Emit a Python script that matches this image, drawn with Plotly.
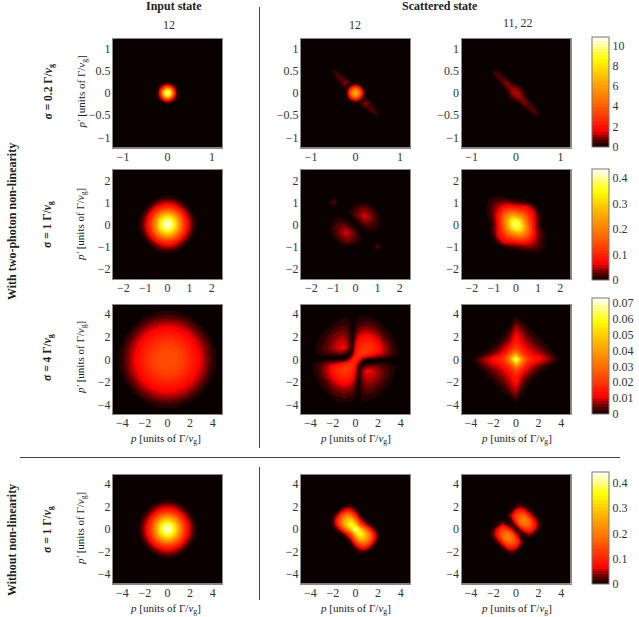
import numpy as np
import plotly.graph_objects as go

W, H = 639, 617
FONT = "Liberation Serif"

# values. rows go top -> centre, the lower half of the
# scattered panels is the same table turned by 180 degrees
# input state: one quadrant, rows and columns start at p = p' = 0
input_02_step = 0.05
input_02 = [
    [10.5, 9.2, 6, 2.8, 0.8, 0.12, 0],
    [9.2, 8.2, 5, 2.4, 0.65, 0.08, 0],
    [6, 5, 3.2, 1.5, 0.4, 0, 0],
    [2.8, 2.4, 1.5, 0.7, 0.12, 0, 0],
    [0.8, 0.65, 0.4, 0.12, 0, 0, 0],
    [0.12, 0.08, 0, 0, 0, 0, 0],
    [0, 0, 0, 0, 0, 0, 0],
]
input_1_step = 0.15
input_1 = [
    [.43, .41, .35, .27, .19, .12, .073, .04, .014, 0],
    [.41, .39, .33, .26, .18, .115, .07, .038, .013, 0],
    [.35, .33, .29, .22, .16, .10, .06, .032, .009, 0],
    [.27, .26, .22, .18, .125, .08, .045, .022, .004, 0],
    [.19, .18, .16, .125, .09, .055, .03, .01, 0, 0],
    [.12, .115, .10, .08, .055, .033, .014, .002, 0, 0],
    [.073, .07, .06, .045, .03, .014, .004, 0, 0, 0],
    [.04, .038, .032, .022, .01, .002, 0, 0, 0, 0],
    [.014, .013, .009, .004, 0, 0, 0, 0, 0, 0],
    [0, 0, 0, 0, 0, 0, 0, 0, 0, 0],
]
input_4_step = 0.5
input_4 = [  # 1e-3
    [25, 24, 22.5, 20, 16.5, 13, 9.8, 5.6, 2.3, 0],
    [24, 23.5, 22, 19.5, 16, 12.5, 9.5, 5.3, 2.2, 0],
    [22.5, 22, 20.5, 18, 15, 11.5, 8.5, 4.8, 1.5, 0],
    [20, 19.5, 18, 15.5, 13, 10.3, 7, 3.6, 0.3, 0],
    [16.5, 16, 15, 13, 11, 8.2, 4.8, 2.2, 0, 0],
    [13, 12.5, 11.5, 10.3, 8.2, 5.3, 3, 0, 0, 0],
    [9.8, 9.5, 8.5, 7, 4.8, 3, 0.5, 0, 0, 0],
    [5.6, 5.3, 4.8, 3.6, 2.2, 0, 0, 0, 0, 0],
    [2.3, 2.2, 1.5, 0.3, 0, 0, 0, 0, 0, 0],
    [0, 0, 0, 0, 0, 0, 0, 0, 0, 0],
]

# sigma = 0.2, scattered, grid step 0.06
grid_02 = [-.6, -.54, -.48, -.42, -.36, -.3, -.24, -.18, -.12, -.06, 0,
           .06, .12, .18, .24, .3, .36, .42, .48, .54, .6]
sc12_02 = [
    [0, 0, 0, 0, 0, 0, 0, 0, 0, 0, 0, 0, 0, 0, 0, 0, 0, 0, 0, 0, 0],
    [0, 0, 0, 0, 0, 0, 0, 0, 0, 0, 0, 0, 0, 0, 0, 0, 0, 0, 0, 0, 0],
    [0, 0, .5, .25, 0, 0, 0, 0, 0, 0, 0, 0, 0, 0, 0, 0, 0, 0, 0, 0, 0],
    [0, 0, .3, .55, .45, .05, 0, 0, 0, 0, 0, 0, 0, 0, 0, 0, 0, 0, 0, 0, 0],
    [0, 0, 0, .4, .55, .5, .2, 0, 0, 0, 0, 0, 0, 0, 0, 0, 0, 0, 0, 0, 0],
    [0, 0, 0, .2, .45, .65, .6, .4, .05, 0, 0, 0, 0, 0, 0, 0, 0, 0, 0, 0, 0],
    [0, 0, 0, 0, .3, .55, .95, .75, .45, 0, 0, 0, 0, 0, 0, 0, 0, 0, 0, 0, 0],
    [0, 0, 0, 0, .05, .35, .7, .1, .15, .55, .9, .55, .15, 0, 0, 0, 0, 0, 0, 0, 0],
    [0, 0, 0, 0, 0, .05, .4, .15, 1.3, 2.6, 3.2, 2.6, 1.3, .15, 0, 0, 0, 0, 0, 0, 0],
    [0, 0, 0, 0, 0, 0, 0, .55, 2.6, 4.8, 5.8, 4.8, 2.6, .55, 0, 0, 0, 0, 0, 0, 0],
    [0, 0, 0, 0, 0, 0, 0, .9, 3.2, 5.8, 6.8, 5.8, 3.2, .9, 0, 0, 0, 0, 0, 0, 0],
]
sc11_02 = [
    [0, 0, 0, 0, 0, 0, 0, 0, 0, 0, 0, 0, 0, 0, 0, 0, 0, 0, 0, 0, 0],
    [0, 0, 0, 0, 0, 0, 0, 0, 0, 0, 0, 0, 0, 0, 0, 0, 0, 0, 0, 0, 0],
    [0, 0, .45, .35, 0, 0, 0, 0, 0, 0, 0, 0, 0, 0, 0, 0, 0, 0, 0, 0, 0],
    [0, 0, .35, .55, .5, .1, 0, 0, 0, 0, 0, 0, 0, 0, 0, 0, 0, 0, 0, 0, 0],
    [0, 0, .1, .45, .6, .55, .25, 0, 0, 0, 0, 0, 0, 0, 0, 0, 0, 0, 0, 0, 0],
    [0, 0, 0, .2, .5, .65, .6, .35, 0, 0, 0, 0, 0, 0, 0, 0, 0, 0, 0, 0, 0],
    [0, 0, 0, 0, .3, .55, .8, .7, .4, 0, 0, 0, 0, 0, 0, 0, 0, 0, 0, 0, 0],
    [0, 0, 0, 0, 0, .35, .6, .85, .75, .55, .35, 0, 0, 0, 0, 0, 0, 0, 0, 0, 0],
    [0, 0, 0, 0, 0, 0, .45, .7, 1, .95, .8, .5, .4, 0, 0, 0, 0, 0, 0, 0, 0],
    [0, 0, 0, 0, 0, 0, 0, .5, .9, 1.2, 1.15, .85, .45, .1, 0, 0, 0, 0, 0, 0, 0],
    [0, 0, 0, 0, 0, 0, 0, .45, .85, 1.15, 1.3, 1.15, .85, .45, 0, 0, 0, 0, 0, 0, 0],
]

# sigma = 1, scattered, grid step 0.2
grid_1 = [-1.4, -1.2, -1, -.8, -.6, -.4, -.2, 0, .2, .4, .6, .8, 1, 1.2, 1.4]
sc12_1 = [
    [0, 0, 0, 0, 0, 0, 0, 0, 0, 0, 0, 0, 0, 0, 0],
    [0, 0, .006, 0, 0, 0, 0, 0, 0, 0, 0, 0, 0, 0, 0],
    [0, .006, .024, .006, 0, 0, 0, 0, 0, 0, 0, 0, 0, 0, 0],
    [0, 0, .006, 0, 0, 0, 0, .012, .022, .025, .016, .003, 0, 0, 0],
    [0, 0, 0, 0, 0, 0, .012, .022, .032, .04, .03, .02, .004, 0, 0],
    [0, 0, 0, 0, 0, 0, .004, .024, .04, .06, .045, .026, .012, 0, 0],
    [0, 0, .004, .012, .012, .004, 0, .008, .026, .042, .038, .026, .014, 0, 0],
    [0, 0, .01, .02, .026, .022, .006, .001, .006, .022, .026, .02, .01, 0, 0],
]
sc11_1 = [
    [0, 0, 0, 0, 0, 0, 0, 0, 0, 0, 0, 0, 0, 0, 0],
    [0, .004, .008, .009, .009, .006, .002, 0, 0, 0, 0, 0, 0, 0, 0],
    [0, .012, .022, .03, .035, .035, .03, .022, .02, .012, .003, 0, 0, 0, 0],
    [0, .014, .03, .05, .065, .08, .08, .075, .07, .07, .055, .02, .003, 0, 0],
    [0, .015, .035, .065, .11, .15, .16, .15, .13, .11, .08, .055, .012, 0, 0],
    [0, .012, .035, .08, .15, .2, .25, .24, .21, .17, .11, .07, .02, .002, 0],
    [0, .006, .03, .08, .16, .25, .33, .35, .3, .21, .13, .07, .025, .004, 0],
    [0, .002, .022, .075, .15, .24, .35, .42, .35, .24, .15, .075, .022, .002, 0],
]

# sigma = 4, scattered, tighter grid round the dark cross, values in 1e-3
grid_4 = [-4.5, -4, -3.5, -3, -2.5, -2, -1.5, -1, -.6, -.3, 0,
          .3, .6, 1, 1.5, 2, 2.5, 3, 3.5, 4, 4.5]
sc12_4 = [
    [0, 0, 0, 0, 0, 0, 0, 0, 0, 0, 0, 0, 0, 0, 0, 0, 0, 0, 0, 0, 0],
    [0, 0, 0, 0, 0, 0, 0, 0, 0, 0, 0, 0, 0, 0, 0, 0, 0, 0, 0, 0, 0],
    [0, 0, 0, 0, 0, 0, .5, 1.5, 1.2, 0, .5, 1.5, 1.8, 2.2, 1.5, .3, 0, 0, 0, 0, 0],
    [0, 0, 0, 0, 0, 1.5, 2.5, 3, 2, 0, 1.5, 3.5, 4, 4.5, 4, 2.8, .8, 0, 0, 0, 0],
    [0, 0, 0, .2, 1.5, 3, 4.5, 5, 3.5, 0, 3, 6, 7.5, 8, 7, 5, 2.5, .8, 0, 0, 0],
    [0, 0, 0, 1.2, 3, 5, 6.5, 7, 4.5, .2, 5, 10, 12, 13, 11, 8, 4.5, 2, .3, 0, 0],
    [0, 0, .3, 2, 4, 6.5, 9, 9.5, 6, .3, 8, 13.5, 15.5, 16.5, 15.5, 11, 7, 3.5, 1, 0, 0],
    [0, 0, .8, 2.5, 4.5, 7, 10, 11, 6, .3, 11, 16.5, 19, 20, 18, 13.5, 8.5, 4.5, 1.5, .2, 0],
    [0, 0, .8, 2.2, 3.5, 5, 6, 5, 2, 1, 13, 18, 19.5, 19, 15.5, 12, 8, 4.5, 1.8, .3, 0],
    [0, 0, .5, .8, 1, 1, 1, .5, .5, 7, 15.5, 18, 15.5, 12, 9, 7, 5, 3, 1.3, .3, 0],
    [0, 0, 0, 0, 0, 0, 0, .5, 6, 13, 17, 13, 6, .5, 0, 0, 0, 0, 0, 0, 0],
]
sc11_4 = [
    [0, 0, 0, 0, 0, 0, 0, 0, 0, 0, 0, 0, 0, 0, 0, 0, 0, 0, 0, 0, 0],
    [0, 0, 0, 0, 0, 0, 0, 0, 0, 0, 0, 0, 0, 0, 0, 0, 0, 0, 0, 0, 0],
    [0, 0, 0, 0, 0, 0, 0, 0, 0, .7, 2.5, .9, .3, 0, 0, 0, 0, 0, 0, 0, 0],
    [0, 0, 0, 0, 0, 0, 0, 0, .8, 3, 6, 5, 2.5, .9, 0, 0, 0, 0, 0, 0, 0],
    [0, 0, 0, 0, 0, 0, 0, .6, 2.5, 6, 9, 8, 5.5, 2.8, .9, 0, 0, 0, 0, 0, 0],
    [0, 0, 0, 0, 0, 0, .5, 2, 5, 9, 13, 10.5, 8, 5, 2.5, .9, 0, 0, 0, 0, 0],
    [0, 0, 0, 0, 0, .5, 2, 5, 8, 12, 16, 13, 10, 7.5, 5, 2.5, .9, 0, 0, 0, 0],
    [0, 0, 0, 0, .6, 2, 5, 9, 13, 18, 22, 18, 14, 10.5, 7.5, 5, 2.8, .9, 0, 0, 0],
    [0, 0, 0, .8, 2.5, 5, 8, 13, 21, 28, 33, 26, 19, 14, 10, 8, 5.5, 2.5, .3, 0, 0],
    [0, 0, .7, 3, 6, 9, 12, 18, 28, 42, 50, 36, 26, 18, 13, 10.5, 8, 5, .9, 0, 0],
    [0, 0, 2.5, 6, 9, 13, 16, 22, 33, 50, 72, 50, 33, 22, 16, 13, 9, 6, 2.5, 0, 0],
]

# without non-linearity, scattered, grid step 0.4
grid_free = [-2.8, -2.4, -2, -1.6, -1.2, -.8, -.4, 0, .4, .8, 1.2, 1.6, 2, 2.4, 2.8]
sc12_free = [
    [0, 0, 0, 0, 0, 0, 0, 0, 0, 0, 0, 0, 0, 0, 0],
    [0, 0, 0, 0, 0, 0, 0, 0, 0, 0, 0, 0, 0, 0, 0],
    [0, 0, 0, 0, .002, .012, .012, .002, 0, 0, 0, 0, 0, 0, 0],
    [0, 0, 0, .003, .05, .09, .08, .03, 0, 0, 0, 0, 0, 0, 0],
    [0, 0, .002, .05, .14, .2, .18, .1, .016, 0, 0, 0, 0, 0, 0],
    [0, 0, .012, .09, .2, .28, .3, .2, .07, .012, 0, 0, 0, 0, 0],
    [0, 0, .012, .08, .2, .3, .38, .3, .15, .07, .016, 0, 0, 0, 0],
    [0, 0, .004, .03, .1, .2, .3, .44, .3, .2, .1, .03, .004, 0, 0],
]
sc11_free = [
    [0, 0, 0, 0, 0, 0, 0, 0, 0, 0, 0, 0, 0, 0, 0],
    [0, 0, 0, 0, 0, 0, 0, 0, 0, 0, 0, 0, 0, 0, 0],
    [0, 0, 0, 0, 0, 0, 0, .01, .03, .012, 0, 0, 0, 0, 0],
    [0, 0, 0, 0, 0, 0, .012, .07, .09, .07, .02, 0, 0, 0, 0],
    [0, 0, 0, 0, 0, .004, .05, .13, .17, .16, .08, .02, 0, 0, 0],
    [0, 0, 0, 0, .004, 0, .02, .12, .19, .22, .16, .07, .012, 0, 0],
    [0, 0, 0, .012, .05, .02, .004, .05, .16, .19, .17, .09, .03, 0, 0],
    [0, 0, .012, .07, .12, .11, .05, 0, .05, .11, .12, .07, .012, 0, 0],
]

row_zmax = [10.9, 0.436, 0.073, 0.442]
row_ticks = [[-1, 0, 1], [-2, -1, 0, 1, 2], [-4, -2, 0, 2, 4], [-4, -2, 0, 2, 4]]
row_yticks = [[-1, -0.5, 0, 0.5, 1], [-2, -1, 0, 1, 2], [-4, -2, 0, 2, 4], [-4, -2, 0, 2, 4]]
row_range = [1.225, 2.47, 4.82, 4.82]
bar_ticks = [[0, 2, 4, 6, 8, 10], [0, 0.1, 0.2, 0.3, 0.4],
             [0, 0.01, 0.02, 0.03, 0.04, 0.05, 0.06, 0.07], [0, 0.1, 0.2, 0.3, 0.4]]
row_labels = ["σ = 0.2 Γ/", "σ = 1 Γ/", "σ = 4 Γ/", "σ = 1 Γ/"]

# pixel boxes of the panels
col_x = [(113, 222), (301, 410), (461.5, 570.5)]
row_y = [(38.5, 147.5), (170, 279), (305, 414), (474.5, 583.5)]
bar_y = [(36.5, 146), (169, 280), (298, 414), (472, 584)]

BG = "#0a0000"
LEVELS = 40  # filled contours, like the bands in the original
hot = [[0, BG], [0.012, BG], [0.025, "#280000"], [0.05, "#4a0000"], [0.075, "#750000"],
       [0.1, "#a00000"], [0.125, "#cc0000"], [0.15, "#ff0000"], [0.2, "#ff1800"],
       [0.4, "#ff6a00"], [0.6, "#ffb000"], [0.8, "#ffff00"], [1, "#ffffff"]]


def from_quadrant(q, step):
    q = np.array(q, dtype=float)
    row = np.hstack([q[:, :0:-1], q])
    a = step * np.arange(q.shape[0])
    return np.concatenate([-a[:0:-1], a]), np.vstack([row[:0:-1], row])


def from_top(top):
    top = np.array(top, dtype=float)
    full = np.vstack([top, top[:-1][::-1, ::-1]])
    return full[::-1]


panels = [
    [from_quadrant(input_02, input_02_step),
     (grid_02, from_top(sc12_02)), (grid_02, from_top(sc11_02))],
    [from_quadrant(input_1, input_1_step),
     (grid_1, from_top(sc12_1)), (grid_1, from_top(sc11_1))],
    [from_quadrant(np.array(input_4) * 1e-3, input_4_step),
     (grid_4, from_top(sc12_4) * 1e-3), (grid_4, from_top(sc11_4) * 1e-3)],
    [from_quadrant(np.array(input_1), input_1_step * 2),
     (grid_free, from_top(sc12_free)), (grid_free, from_top(sc11_free))],
]


def px(x):
    return x / W


def py(y):
    return 1 - y / H


fig = go.Figure()
axes = {}
n = 0
for r, row in enumerate(panels):
    cs = row_zmax[r] / LEVELS
    for c, (grid, z) in enumerate(row):
        n += 1
        suffix = "" if n == 1 else str(n)
        ca = "coloraxis" if r == 0 else f"coloraxis{r + 1}"
        fig.add_trace(go.Contour(x=grid, y=grid, z=z, coloraxis=ca, autocontour=False,
                                 contours=dict(start=cs / 2, end=row_zmax[r] - cs / 2, size=cs,
                                               coloring="fill", showlines=False),
                                 line=dict(width=0, smoothing=0.8),
                                 xaxis=f"x{suffix}", yaxis=f"y{suffix}"))
        common = dict(range=[-row_range[r], row_range[r]], showgrid=False, zeroline=False,
                      showline=True, mirror=True, linecolor="#8a8a8a", linewidth=1, ticks="",
                      tickfont=dict(family=FONT, size=12, color="#333333"))
        axes[f"xaxis{suffix}"] = dict(domain=[px(col_x[c][0]), px(col_x[c][1])], anchor=f"y{suffix}",
                                      tickvals=row_ticks[r], ticklabelstandoff=-2, **common)
        axes[f"yaxis{suffix}"] = dict(domain=[py(row_y[r][1]), py(row_y[r][0])], anchor=f"x{suffix}",
                                      tickvals=row_yticks[r], ticklabelstandoff=-1, **common)

for r in range(4):
    ca = "coloraxis" if r == 0 else f"coloraxis{r + 1}"
    top, bot = bar_y[r]
    axes[ca] = dict(
        cmin=0, cmax=row_zmax[r], colorscale=hot,
        colorbar=dict(x=px(592), xanchor="left", y=py(top), yanchor="top", len=bot - top,
                      lenmode="pixels", thickness=17, thicknessmode="pixels", xpad=0, ypad=0,
                      outlinecolor="#777777", outlinewidth=1, ticks="", tickvals=bar_ticks[r],
                      tickfont=dict(family=FONT, size=12, color="#333333")),
    )


def label(x, y, text, size=11, rot=0, color="#222222"):
    fig.add_annotation(xref="paper", yref="paper", x=px(x), y=py(y), text=text, showarrow=False,
                       textangle=rot, xanchor="center", yanchor="middle",
                       font=dict(family=FONT, size=size, color=color))


UNITS = "[units of Γ/<i>v</i><sub>g</sub>]"
label(174, 6, "<b>Input state</b>", 12)
label(440, 6, "<b>Scattered state</b>", 12)
label(169, 25, "12", 12, color="#333333")
label(355, 25, "12", 12, color="#333333")
label(518, 23, "11, 22", 12, color="#333333")

for r, yc in enumerate([92.5, 225, 358, 530]):
    label(48, yc, f"<b>{row_labels[r]}<i>v</i><sub>g</sub></b>", 11.5, -90)
for yc in [92.5, 225, 358, 529]:
    label(81, yc, f"<i>p′</i> {UNITS}", 11, -90)
for yc in [439, 609]:
    for xc in [165.5, 355, 516]:
        label(xc, yc, f"<i>p</i> {UNITS}", 11)
label(12, 222, "<b>With two-photon non-linearity</b>", 12, -90)
label(12, 540, "<b>Without non-linearity</b>", 12, -90)

line = dict(color="#444444", width=1)
fig.add_shape(type="line", xref="paper", yref="paper", x0=px(259.5), x1=px(259.5), y0=py(7), y1=py(448), line=line)
fig.add_shape(type="line", xref="paper", yref="paper", x0=px(259.5), x1=px(259.5), y0=py(467), y1=py(600), line=line)
fig.add_shape(type="line", xref="paper", yref="paper", x0=px(20), x1=px(620), y0=py(457.5), y1=py(457.5), line=line)

fig.update_layout(width=W, height=H, margin=dict(l=0, r=0, t=0, b=0), plot_bgcolor=BG,
                  paper_bgcolor="white", showlegend=False, font=dict(family=FONT), **axes)

fig.write_html("out.html", config={"displayModeBar": False},
               post_script="document.body.style.margin='0';")
